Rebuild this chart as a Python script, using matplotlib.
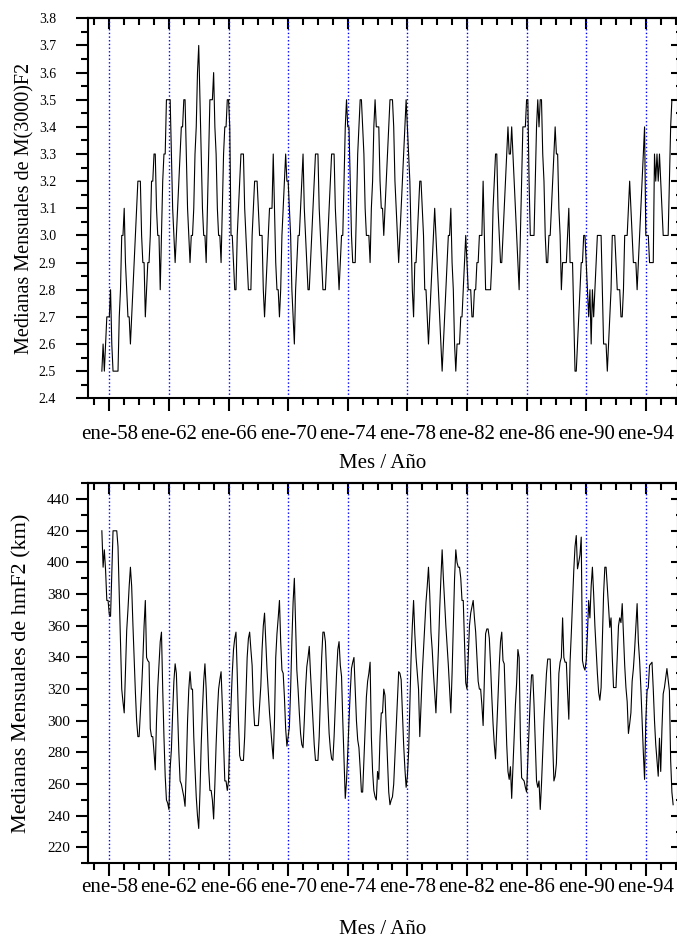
import numpy as np
import matplotlib
matplotlib.use('Agg')
import matplotlib.pyplot as plt
from matplotlib.ticker import FixedLocator, MultipleLocator, NullFormatter

plt.rcParams['font.family'] = 'Liberation Serif'

# medianas mensuales, desde jul-1957 (una fila por año)
m3000f2 = [
    2.5, 2.6, 2.5, 2.6, 2.7, 2.7,                                   # 1957
    2.7, 2.8, 2.6, 2.5, 2.5, 2.5, 2.5, 2.5, 2.7, 2.8, 3.0, 3.0,     # 1958
    3.1, 2.9, 2.8, 2.7, 2.7, 2.6, 2.7, 2.8, 2.9, 3.0, 3.1, 3.2,     # 1959
    3.2, 3.2, 3.0, 2.9, 2.9, 2.7, 2.8, 2.9, 2.9, 3.0, 3.2, 3.2,     # 1960
    3.3, 3.3, 3.1, 3.0, 3.0, 2.8, 3.0, 3.2, 3.3, 3.3, 3.5, 3.5,     # 1961
    3.5, 3.5, 3.3, 3.1, 3.0, 2.9, 3.0, 3.1, 3.2, 3.3, 3.4, 3.4,     # 1962
    3.5, 3.5, 3.3, 3.1, 3.0, 2.9, 3.0, 3.0, 3.1, 3.3, 3.4, 3.6,     # 1963
    3.7, 3.5, 3.3, 3.1, 3.0, 3.0, 2.9, 3.1, 3.3, 3.5, 3.5, 3.5,     # 1964
    3.6, 3.4, 3.3, 3.1, 3.0, 3.0, 2.9, 3.1, 3.3, 3.4, 3.4, 3.5,     # 1965
    3.5, 3.4, 3.0, 3.0, 2.9, 2.8, 2.8, 3.0, 3.1, 3.2, 3.3, 3.3,     # 1966
    3.3, 3.1, 3.0, 2.9, 2.8, 2.8, 2.8, 3.0, 3.1, 3.2, 3.2, 3.2,     # 1967
    3.1, 3.0, 3.0, 3.0, 2.8, 2.7, 2.8, 2.9, 3.0, 3.1, 3.1, 3.1,     # 1968
    3.3, 3.1, 2.9, 2.8, 2.8, 2.7, 2.8, 3.0, 3.1, 3.2, 3.3, 3.2,     # 1969
    3.2, 3.1, 3.0, 2.8, 2.7, 2.6, 2.8, 2.9, 3.0, 3.0, 3.1, 3.2,     # 1970
    3.3, 3.1, 3.0, 2.9, 2.8, 2.8, 2.9, 3.0, 3.1, 3.2, 3.3, 3.3,     # 1971
    3.3, 3.1, 3.0, 2.9, 2.8, 2.8, 2.8, 2.9, 3.0, 3.1, 3.2, 3.3,     # 1972
    3.3, 3.3, 3.1, 3.0, 2.9, 2.8, 2.9, 3.0, 3.0, 3.2, 3.4, 3.5,     # 1973
    3.4, 3.4, 3.2, 3.0, 2.9, 2.9, 2.9, 3.1, 3.3, 3.4, 3.5, 3.5,     # 1974
    3.4, 3.3, 3.1, 3.0, 3.0, 3.0, 2.9, 3.1, 3.2, 3.4, 3.5, 3.4,     # 1975
    3.4, 3.4, 3.2, 3.1, 3.1, 3.0, 3.1, 3.2, 3.3, 3.4, 3.5, 3.5,     # 1976
    3.5, 3.4, 3.2, 3.1, 3.0, 2.9, 3.0, 3.1, 3.2, 3.3, 3.4, 3.5,     # 1977
    3.4, 3.3, 3.2, 3.0, 2.8, 2.7, 2.9, 2.9, 3.0, 3.1, 3.2, 3.2,     # 1978
    3.1, 3.0, 2.8, 2.8, 2.7, 2.6, 2.7, 2.8, 2.9, 3.0, 3.1, 3.0,     # 1979
    2.9, 2.8, 2.7, 2.6, 2.5, 2.6, 2.7, 2.8, 2.9, 3.0, 3.0, 3.1,     # 1980
    2.9, 2.8, 2.6, 2.5, 2.6, 2.6, 2.6, 2.7, 2.7, 2.8, 2.9, 3.0,     # 1981
    2.9, 2.8, 2.8, 2.8, 2.7, 2.7, 2.8, 2.8, 2.9, 2.9, 3.0, 3.0,     # 1982
    3.0, 3.2, 3.0, 2.8, 2.8, 2.8, 2.8, 2.8, 2.9, 3.1, 3.2, 3.3,     # 1983
    3.3, 3.1, 3.0, 2.9, 2.9, 3.0, 3.1, 3.2, 3.3, 3.4, 3.3, 3.3,     # 1984
    3.4, 3.3, 3.2, 3.1, 3.0, 2.9, 2.8, 3.0, 3.2, 3.4, 3.4, 3.4,     # 1985
    3.5, 3.5, 3.2, 3.0, 3.0, 3.0, 3.0, 3.2, 3.4, 3.5, 3.4, 3.5,     # 1986
    3.5, 3.3, 3.2, 3.0, 2.9, 2.9, 3.0, 3.0, 3.1, 3.2, 3.3, 3.4,     # 1987
    3.3, 3.3, 3.1, 3.0, 2.8, 2.9, 2.9, 2.9, 2.9, 3.0, 3.1, 2.9,     # 1988
    2.9, 2.9, 2.7, 2.5, 2.5, 2.6, 2.7, 2.8, 2.9, 2.9, 3.0, 3.0,     # 1989
    2.9, 2.8, 2.7, 2.8, 2.6, 2.8, 2.7, 2.8, 2.9, 3.0, 3.0, 3.0,     # 1990
    3.0, 2.8, 2.6, 2.6, 2.6, 2.5, 2.6, 2.7, 2.8, 3.0, 3.0, 3.0,     # 1991
    2.9, 2.8, 2.8, 2.8, 2.7, 2.7, 2.8, 3.0, 3.0, 3.0, 3.1, 3.2,     # 1992
    3.1, 3.0, 2.9, 2.9, 2.9, 2.8, 2.9, 3.0, 3.1, 3.2, 3.3, 3.4,     # 1993
    3.0, 3.0, 3.0, 2.9, 2.9, 2.9, 2.9, 3.3, 3.2, 3.3, 3.2, 3.3,     # 1994
    3.2, 3.1, 3.0, 3.0, 3.0, 3.0, 3.0, 3.2, 3.4, 3.5, 3.5, 3.5,     # 1995
    3.5, 3.5,                                                       # 1996
]

hmf2 = [
    420, 397, 408, 395, 376, 376,                                   # 1957
    367, 366, 393, 420, 420, 420, 420, 410, 380, 350, 320, 312,     # 1958
    305, 330, 357, 370, 385, 397, 385, 361, 340, 318, 300, 290,     # 1959
    290, 305, 320, 338, 360, 376, 340, 338, 337, 295, 290, 290,     # 1960
    280, 269, 300, 321, 335, 350, 356, 320, 290, 265, 250, 248,     # 1961
    244, 270, 282, 305, 325, 336, 330, 305, 280, 262, 260, 256,     # 1962
    252, 246, 270, 300, 320, 331, 320, 320, 290, 270, 252, 240,     # 1963
    232, 255, 285, 307, 325, 336, 320, 295, 270, 256, 256, 250,     # 1964
    238, 260, 285, 305, 320, 326, 331, 310, 285, 262, 262, 256,     # 1965
    262, 290, 310, 330, 345, 352, 356, 330, 300, 278, 275, 275,     # 1966
    275, 290, 315, 340, 352, 356, 345, 335, 310, 297, 297, 297,     # 1967
    297, 310, 322, 345, 360, 368, 350, 332, 318, 305, 295, 285,     # 1968
    276, 300, 340, 355, 365, 376, 350, 332, 330, 315, 295, 284,     # 1969
    290, 296, 320, 350, 375, 390, 360, 332, 320, 305, 292, 285,     # 1970
    283, 300, 320, 334, 340, 347, 330, 315, 300, 285, 275, 275,     # 1971
    275, 290, 315, 340, 356, 356, 350, 330, 310, 292, 282, 276,     # 1972
    275, 290, 310, 330, 345, 350, 335, 328, 300, 275, 251, 262,     # 1973
    280, 300, 318, 333, 337, 340, 320, 300, 288, 283, 270, 255,     # 1974
    255, 275, 295, 315, 325, 330, 337, 290, 268, 256, 252, 250,     # 1975
    268, 263, 290, 305, 305, 320, 316, 295, 275, 255, 247, 250,     # 1976
    252, 260, 278, 296, 315, 331, 330, 326, 305, 285, 270, 258,     # 1977
    265, 280, 310, 340, 360, 376, 355, 340, 330, 320, 290, 310,     # 1978
    330, 345, 360, 375, 385, 397, 380, 356, 345, 330, 318, 305,     # 1979
    325, 345, 370, 390, 408, 390, 375, 360, 348, 335, 320, 305,     # 1980
    330, 360, 390, 408, 400, 397, 397, 390, 376, 376, 350, 324,     # 1981
    320, 340, 360, 368, 372, 376, 365, 356, 340, 325, 320, 320,     # 1982
    310, 297, 325, 355, 358, 358, 352, 335, 315, 298, 285, 276,     # 1983
    295, 315, 335, 350, 356, 338, 336, 310, 285, 268, 263, 271,     # 1984
    251, 270, 290, 310, 324, 345, 340, 290, 264, 263, 262, 258,     # 1985
    255, 275, 295, 315, 329, 329, 310, 285, 262, 258, 262, 244,     # 1986
    260, 280, 300, 315, 330, 339, 339, 339, 310, 285, 262, 265,     # 1987
    273, 300, 330, 337, 340, 365, 340, 337, 337, 318, 301, 337,     # 1988
    355, 375, 395, 410, 417, 396, 400, 405, 416, 338, 334, 332,     # 1989
    338, 355, 376, 365, 385, 397, 380, 360, 345, 330, 318, 313,     # 1990
    321, 350, 380, 397, 397, 385, 372, 359, 365, 340, 321, 321,     # 1991
    321, 340, 360, 365, 362, 374, 355, 335, 321, 312, 292, 298,     # 1992
    305, 325, 333, 345, 360, 374, 350, 338, 321, 300, 280, 263,     # 1993
    300, 319, 321, 335, 336, 337, 320, 300, 285, 275, 265, 289,     # 1994
    268, 295, 317, 321, 327, 333, 326, 319, 275, 255, 247,          # 1995
]

first_month = 1957.5  # jul-1957
tick_years = [1958, 1962, 1966, 1970, 1974, 1978, 1982, 1986, 1990, 1994]
tick_labels = ['ene-58', 'ene-62', 'ene-66', 'ene-70', 'ene-74',
               'ene-78', 'ene-82', 'ene-86', 'ene-90', 'ene-94']
xlabel = 'Mes / Año'

W, H = 677, 943
fig = plt.figure(figsize=(W / 100, H / 100), dpi=100)


def panel(top_px, values, ylim, ymaj, ymin, ylabel, ylab_size, ylab_x,
          ytick_size, ytick_pad, xtick_pad, xlab_y):
    left, right = 88, 678
    ax = fig.add_axes([left / W, 1 - (top_px + 380) / H, (right - left) / W, 380 / H])
    x = first_month + np.arange(len(values)) / 12.0
    ax.plot(x, values, color='black', lw=0.8, zorder=3)
    ax.set_xlim(1956.57, 1996.16)
    ax.set_ylim(*ylim)

    ax.xaxis.set_major_locator(FixedLocator(tick_years))
    ax.xaxis.set_minor_locator(FixedLocator(range(1957, 1997)))
    ax.set_xticklabels(tick_labels)
    ax.yaxis.set_major_locator(MultipleLocator(ymaj))
    ax.yaxis.set_minor_locator(MultipleLocator(ymin))
    ax.grid(True, axis='x', which='major', color='blue', ls=':', lw=1.0, zorder=1)

    ax.tick_params(which='major', direction='out', length=9, width=1.5)
    ax.tick_params(which='minor', direction='out', length=5, width=1.5)
    ax.tick_params(axis='x', labelsize=15, pad=xtick_pad)
    ax.tick_params(axis='y', labelsize=ytick_size, pad=ytick_pad)
    for s in ax.spines.values():
        s.set_linewidth(1.5)

    # ticks interiores arriba y a la derecha
    sx = ax.secondary_xaxis('top')
    sx.xaxis.set_major_locator(FixedLocator(tick_years))
    sx.xaxis.set_minor_locator(FixedLocator(range(1957, 1997)))
    sx.xaxis.set_major_formatter(NullFormatter())
    sx.tick_params(which='major', direction='in', length=8, width=1.5)
    sx.tick_params(which='minor', direction='in', length=5, width=1.5)
    sx.spines['top'].set_linewidth(1.5)
    sy = ax.secondary_yaxis('right')
    sy.yaxis.set_major_locator(MultipleLocator(ymaj))
    sy.yaxis.set_minor_locator(MultipleLocator(ymin))
    sy.yaxis.set_major_formatter(NullFormatter())
    sy.tick_params(which='major', direction='in', length=5, width=1.5)
    sy.tick_params(which='minor', direction='in', length=1.5, width=1.5)

    ax.set_ylabel(ylabel, fontsize=ylab_size)
    ax.yaxis.label.set_va('center')
    ax.yaxis.set_label_coords((ylab_x - left) / (right - left), 0.5)
    ax.set_xlabel(xlabel, fontsize=15)
    ax.xaxis.label.set_va('center')
    ax.xaxis.set_label_coords(0.5, -(xlab_y - top_px - 380) / 380)
    return ax


panel(18.3, m3000f2, (2.4, 3.8), 0.1, 0.05,
      'Medianas Mensuales de M(3000)F2', 14.5, 25, 10, 14, 10.5, 464)
panel(483.3, hmf2, (210, 450), 20, 10,
      'Medianas Mensuales de hmF2 (km)', 16, 22, 11, 4, 1.5, 930)

fig.savefig('out.png', dpi=100)
